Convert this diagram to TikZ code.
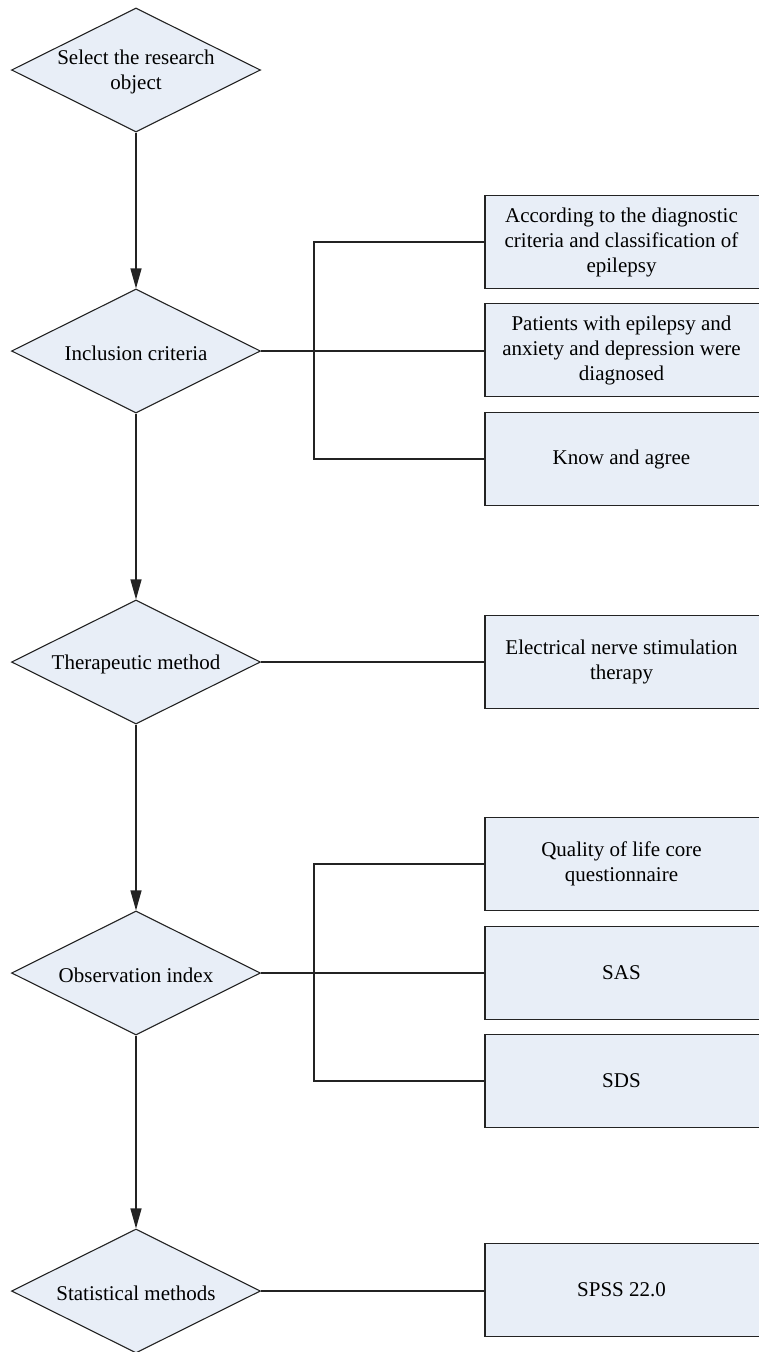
\documentclass[tikz,border=0pt]{standalone}
\usepackage{fontspec}
\setmainfont{Liberation Serif}
\usetikzlibrary{shapes.geometric,arrows.meta}
\definecolor{boxfill}{RGB}{232,238,247}
\definecolor{edgec}{RGB}{35,35,35}
\begin{document}
\begin{tikzpicture}[x=1pt,y=-1pt,
  txt/.style={font=\fontsize{21}{25}\selectfont, align=center},
  dectxt/.style={txt, yshift=-2pt},
  dec/.style={diamond, draw=edgec, fill=boxfill, line width=1.1pt,
    minimum width=249pt, minimum height=124pt, inner sep=0pt},
  res/.style={rectangle, draw=edgec, fill=boxfill, line width=1.1pt,
    minimum width=290pt, minimum height=93pt, inner sep=0pt},
  restxt/.style={txt, xshift=-8.5pt},
  link/.style={draw=edgec, line width=1.1pt},
  arr/.style={link, -{Triangle[length=20pt,width=11pt]}}]
\useasboundingbox (0,0) rectangle (758,1352);

% decision diamonds
\node[dec, label={[dectxt]center:Select the research\\object}] (d1) at (136,70) {};
\node[dec, label={[dectxt]center:Inclusion criteria}] (d2) at (136,351) {};
\node[dec, label={[dectxt]center:Therapeutic method}] (d3) at (136,662) {};
\node[dec, label={[dectxt]center:Observation index}] (d4) at (136,973) {};
\node[dec, label={[dectxt]center:Statistical methods}] (d5) at (136,1291) {};

% result boxes (right side runs off the page, as in the reference)
\node[res, label={[restxt]center:According to the diagnostic\\criteria and classification of\\epilepsy}] (b1) at (630,242) {};
\node[res, label={[restxt]center:Patients with epilepsy and\\anxiety and depression were\\diagnosed}] (b2) at (630,350) {};
\node[res, label={[restxt]center:Know and agree}] (b3) at (630,459) {};
\node[res, label={[restxt]center:Electrical nerve stimulation\\therapy}] (b4) at (630,662) {};
\node[res, label={[restxt]center:Quality of life core\\questionnaire}] (b5) at (630,864) {};
\node[res, label={[restxt]center:SAS}] (b6) at (630,973) {};
\node[res, label={[restxt]center:SDS}] (b7) at (630,1081) {};
\node[res, label={[restxt]center:SPSS 22.0}] (b8) at (630,1290) {};

\coordinate (j) at (314,0);

% main flow
\draw[arr] (d1.south) -- (d2.north);
\draw[arr] (d2.south) -- (d3.north);
\draw[arr] (d3.south) -- (d4.north);
\draw[arr] (d4.south) -- (d5.north);

% branches
\draw[link] (d2.east) -- (d2.east -| b2.west);
\draw[link] (b1.west) -- (b1.west -| j) |- (b3.west);
\draw[link] (d3.east) -- (d3.east -| b4.west);
\draw[link] (d4.east) -- (d4.east -| b6.west);
\draw[link] (b5.west) -- (b5.west -| j) |- (b7.west);
\draw[link] (d5.east) -- (d5.east -| b8.west);
\end{tikzpicture}
\end{document}
